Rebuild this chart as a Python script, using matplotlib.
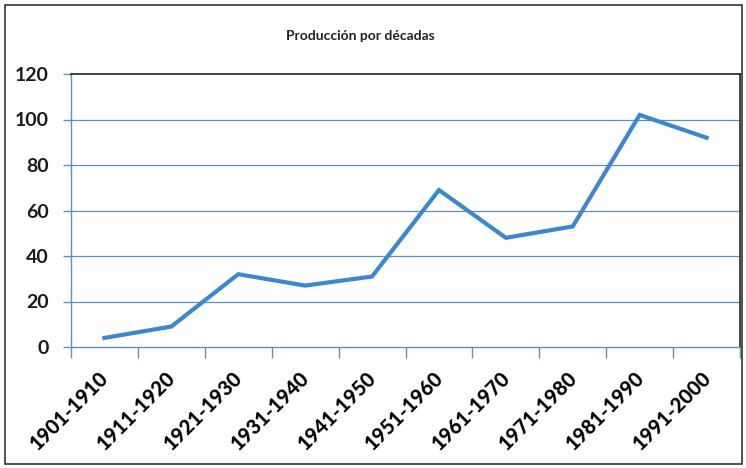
import matplotlib
matplotlib.use('Agg')
import matplotlib.pyplot as plt
from matplotlib.patches import Rectangle
from matplotlib.transforms import ScaledTranslation

plt.rcParams['font.family'] = ['Lato', 'DejaVu Sans']

decadas = ['1901-1910', '1911-1920', '1921-1930', '1931-1940', '1941-1950',
           '1951-1960', '1961-1970', '1971-1980', '1981-1990', '1991-2000']
produccion = [4, 9, 32, 27, 31, 69, 48, 53, 102, 92]
y_ticks = [0, 20, 40, 60, 80, 100, 120]

W, H = 746, 468
fig = plt.figure(figsize=(W / 100, H / 100), dpi=100)
ax = fig.add_axes([71 / W, 1 - 347 / H, (740 - 71) / W, (347 - 74) / H])

grid_col = '#5a8fbf'
x = list(range(len(decadas)))
ax.plot(x, produccion, color='#3c86d2', lw=3.0, solid_joinstyle='miter', zorder=3)

ax.set_xlim(-0.5, len(decadas) - 0.5)
ax.set_ylim(0, 120)
ax.set_yticks(y_ticks)
ax.set_yticklabels([str(v) for v in y_ticks], fontsize=14, fontweight='bold', color='#1a1a1a')
for v in y_ticks[1:-1]:
    ax.axhline(v, color=grid_col, lw=0.9, zorder=1)

# tick marks sit on category boundaries, labels at the centres
ax.set_xticks([i - 0.5 for i in range(len(decadas) + 1)])
ax.set_xticklabels([])
ax.set_xticks(x, minor=True)
ax.set_xticklabels(decadas, minor=True, rotation=45, ha='right', va='top',
                   rotation_mode='anchor', fontsize=14.5, fontweight='black', color='black')
ax.tick_params(axis='x', which='major', length=8, width=1, color=grid_col, direction='out')
ax.tick_params(axis='x', which='minor', length=0, pad=15)
ax.tick_params(axis='y', length=6, width=1, color=grid_col, pad=10)

shift = ScaledTranslation(-4 / 72, 0, fig.dpi_scale_trans)
for lbl in ax.get_xticklabels(minor=True):
    lbl.set_transform(lbl.get_transform() + shift)

for side in ['left', 'bottom']:
    ax.spines[side].set_color(grid_col)
    ax.spines[side].set_linewidth(1)
for side in ['top', 'right']:
    ax.spines[side].set_color('#222222')
    ax.spines[side].set_linewidth(1.2)

fig.text(360 / W, 1 - 36 / H, 'Producción por décadas', fontsize=10, fontweight='bold',
         color='#222222', ha='center', va='center')

fig.patches.append(Rectangle((5 / W, 4 / H), 737 / W, 459 / H, transform=fig.transFigure,
                             fill=False, edgecolor='#333333', lw=1.2))

fig.savefig('out.png', dpi=100)
